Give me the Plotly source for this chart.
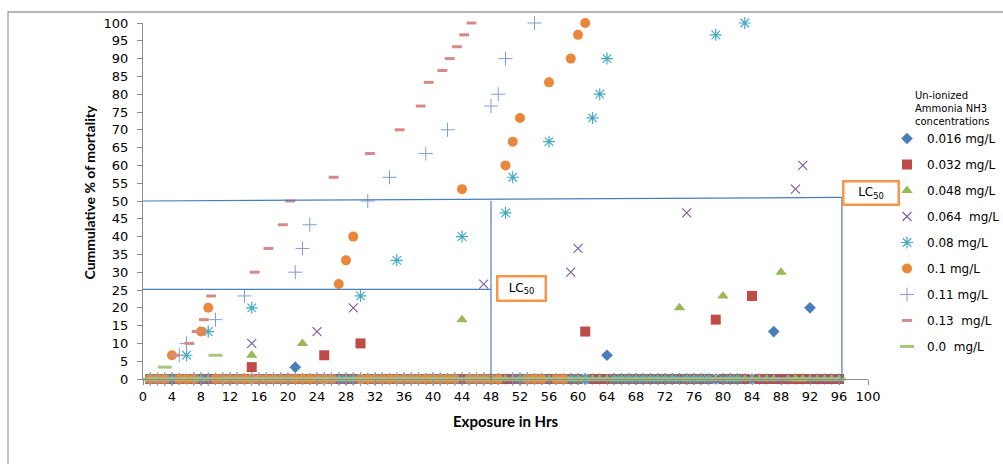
import plotly.graph_objects as go

# ---------------- data ----------------
hours = list(range(1, 97))  # observation hours (zero mortality where nothing recorded)

names = ["0.016 mg/L", "0.032 mg/L", "0.048 mg/L", "0.064  mg/L", "0.08 mg/L",
         "0.1 mg/L", "0.11 mg/L", "0.13  mg/L", "0.0  mg/L"]

# recorded (non-zero) cumulative mortality: hour -> %
m016 = {21: 3.33, 64: 6.67, 87: 13.33, 92: 20}
m032 = {15: 3.33, 25: 6.67, 30: 10, 61: 13.33, 79: 16.67, 84: 23.33}
m048 = {15: 6.67, 22: 10, 44: 16.67, 74: 20, 80: 23.33, 88: 30}
m064 = {15: 10, 24: 13.33, 29: 20, 47: 26.67, 59: 30, 60: 36.67, 75: 46.67, 90: 53.33, 91: 60}
m080 = {6: 6.67, 9: 13.33, 15: 20, 30: 23.33, 35: 33.33, 44: 40, 50: 46.67, 51: 56.67,
        56: 66.67, 62: 73.33, 63: 80, 64: 90, 79: 96.67, 83: 100}
m100 = {4: 6.67, 8: 13.33, 9: 20, 27: 26.67, 28: 33.33, 29: 40, 44: 53.33, 50: 60,
        51: 66.67, 52: 73.33, 56: 83.33, 59: 90, 60: 96.67, 61: 100}
m110 = {5: 6.67, 6: 10, 10: 16.67, 14: 23.33, 21: 30, 22: 36.67, 23: 43.33, 31: 50,
        34: 56.67, 39: 63.33, 42: 70, 48: 76.67, 49: 80, 50: 90, 54: 100}
m130 = {4.4: 6.67, 6.4: 10, 7.4: 13.33, 8.4: 16.67, 9.4: 23.33, 15.4: 30, 17.3: 36.67,
        19.3: 43.33, 20.3: 50, 26.3: 56.67, 31.3: 63.33, 35.4: 70, 38.3: 76.67,
        39.4: 83.33, 41.3: 86.67, 42.3: 90, 43.3: 93.33, 44.3: 96.67, 45.3: 100}
m000 = {3: 3.33, 10: 6.67}

# last hour each series was recorded
last_hour = [96, 96, 96, 96, 83, 61, 54, 45, 96]

series = [m016, m032, m048, m064, m080, m100, m110, m130, m000]

# LC50 guide values
lc_hours = [48, 96.4]
lc_levels = [25.2, 50, 51]

# ---------------- styles ----------------
styles = [
    dict(symbol="diamond", size=9, color="#4A7EBB"),
    dict(symbol="square", size=10, color="#BE4B48"),
    dict(symbol="triangle-up", size=10, color="#98B954"),
    dict(symbol="x-thin-open", size=9, color="#7D60A0", line=dict(width=1.2, color="#7D60A0")),
    dict(symbol="asterisk-open", size=10, color="#46AAC5", line=dict(width=1.2, color="#46AAC5")),
    dict(symbol="circle", size=10, color="#E9883A"),
    dict(symbol="cross-thin-open", size=10, color="#7F9FD3", line=dict(width=1, color="#7F9FD3")),
    dict(symbol="line-ew-open", size=7, color="#D48A88", line=dict(width=3, color="#D48A88")),
    dict(symbol="line-ew-open", size=10, color="#A6C77C", line=dict(width=3, color="#A6C77C")),
]

fig = go.Figure()
for i, (nm, rec, end, st) in enumerate(zip(names, series, last_hour, styles)):
    rec_int = {round(k) for k in rec}
    xs, ys = [], []
    for h in hours:
        if h > end:
            break
        if h not in rec_int:
            xs.append(h)
            ys.append(0)
    xs += list(rec.keys())
    ys += list(rec.values())
    mk = dict(symbol=st["symbol"], size=st["size"], color=st["color"])
    if "line" in st:
        mk["line"] = st["line"]
    else:
        mk["line"] = dict(width=0)
    fig.add_trace(go.Scatter(x=xs, y=ys, mode="markers", name=nm, marker=mk,
                             cliponaxis=False, legendgroup=str(i)))

W, H = 1003, 464
L, R, T, B = 143, 1003 - 868, 23, 464 - 379
pw, ph = W - L - R, H - T - B

def px(x):
    return (x - L) / pw

def py(y):
    return (H - B - y) / ph

line_col = "#4A7EBB"
shapes = [
    dict(type="line", xref="x", yref="y", x0=0, y0=lc_levels[1], x1=lc_hours[1], y1=lc_levels[2],
         line=dict(color=line_col, width=1.2)),
    dict(type="line", xref="x", yref="y", x0=lc_hours[1], y0=lc_levels[2], x1=lc_hours[1], y1=0,
         line=dict(color=line_col, width=1.2)),
    dict(type="line", xref="x", yref="y", x0=0, y0=lc_levels[0], x1=lc_hours[0], y1=lc_levels[0],
         line=dict(color=line_col, width=1.2)),
    dict(type="line", xref="x", yref="y", x0=lc_hours[0], y0=lc_levels[1], x1=lc_hours[0], y1=0,
         line=dict(color=line_col, width=1.2)),
    # outer chart border
    dict(type="rect", xref="paper", yref="paper", x0=px(8), y0=py(480), x1=px(1015), y1=py(12),
         line=dict(color="#A0A0A0", width=1.3), fillcolor="rgba(0,0,0,0)"),
]

WIDE = "'DejaVu Sans', Verdana, sans-serif"
CAL = "Lato, 'Open Sans', sans-serif"
annotations = [
    dict(xref="paper", yref="paper", x=px(521.7), y=py(288.9), xanchor="center", yanchor="middle",
         text="LC<sub>50</sub>", showarrow=False, font=dict(size=12, color="#000", family=WIDE),
         bordercolor="#F79646", borderwidth=2.5, bgcolor="white", width=44, height=20, borderpad=1),
    dict(xref="paper", yref="paper", x=px(870.7), y=py(193), xanchor="center", yanchor="middle",
         text="LC<sub>50</sub>", showarrow=False, font=dict(size=12, color="#000", family=WIDE),
         bordercolor="#F79646", borderwidth=2.5, bgcolor="white", width=51, height=19, borderpad=1),
    dict(xref="paper", yref="paper", x=px(89), y=py(192.5), xanchor="center", yanchor="middle",
         text="<b>Cummulative % of mortality</b>",
         textangle=-90, showarrow=False, font=dict(size=14, color="#000", family=CAL)),
    dict(xref="paper", yref="paper", x=px(506), y=py(421), xanchor="center", yanchor="middle",
         text="<b>Exposure in Hrs</b>",
         showarrow=False, font=dict(size=15, color="#000", family=CAL)),
    dict(xref="paper", yref="paper", x=px(913), y=py(88), xanchor="left", yanchor="top", align="left",
         text="Un-ionized<br>Ammonia NH3<br>concentrations", showarrow=False,
         font=dict(size=10, color="#000", family=WIDE)),
]

axis_common = dict(showgrid=False, zeroline=False, showline=True, linecolor="#8C8C8C", linewidth=1,
                   ticks="outside", ticklen=5, tickcolor="#8C8C8C", tickwidth=1,
                   tickfont=dict(size=13, color="#000", family=WIDE))

fig.update_layout(
    width=W, height=H,
    margin=dict(l=L, r=R, t=T, b=B, autoexpand=False),
    paper_bgcolor="white", plot_bgcolor="white",
    xaxis=dict(range=[0, 100], tickmode="array", tickvals=list(range(0, 101, 4)), **axis_common),
    yaxis=dict(range=[0, 100], tickmode="array", tickvals=list(range(0, 101, 5)),
               ticklabelstandoff=6, **axis_common),
    showlegend=True,
    legend=dict(x=px(887), y=py(124), xanchor="left", yanchor="top",
                font=dict(size=12, color="#000", family=WIDE), tracegroupgap=7,
                bgcolor="rgba(0,0,0,0)"),
    shapes=shapes, annotations=annotations,
)

fig.write_html("out.html", config={"displayModeBar": False},
               post_script="document.body.style.margin='0';document.body.style.overflow='hidden';")
